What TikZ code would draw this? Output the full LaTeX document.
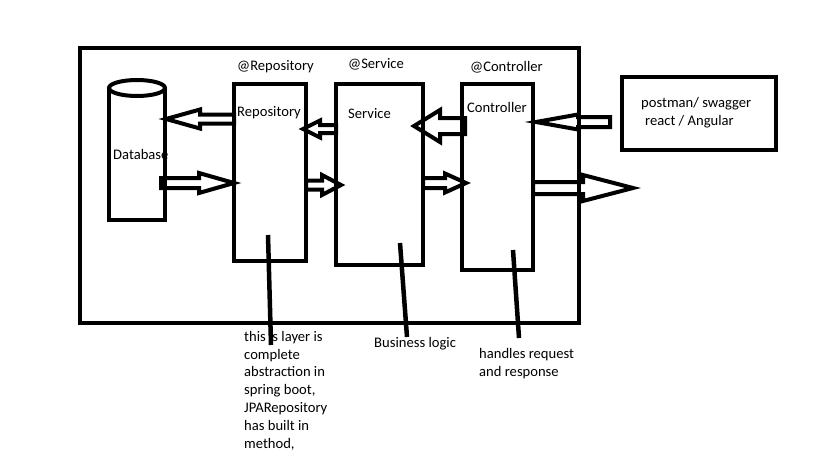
\documentclass[tikz,border=0pt]{standalone}
\usepackage{fontspec}
\setmainfont{Carlito}
\begin{document}
\begin{tikzpicture}[x=1pt,y=-1pt,
  thick line/.style={line width=4pt},
  layerbox/.style={draw,thick line,rectangle,inner sep=0pt,anchor=center},
  label/.style={inner sep=0pt,anchor=west,font=\fontsize{14.6pt}{17.8pt}\selectfont},
  note/.style={inner sep=0pt,anchor=north west,align=left,font=\fontsize{14.6pt}{17.8pt}\selectfont},
  arrowbody/.style={draw,thick line,line join=miter},
  leader/.style={line width=4.5pt}]
\useasboundingbox (0,0) rectangle (819,460);
% hollow block arrow: tail x, tip x, axis y, shaft half-height, head half-height, head base x
\newcommand{\hollowarrow}[6]{%
  \draw[arrowbody] (#1,#3-#4) -- (#6,#3-#4) -- (#6,#3-#5) -- (#2,#3)
    -- (#6,#3+#5) -- (#6,#3+#4) -- (#1,#3+#4) -- cycle;}

% database cylinder
\node[label] (dbtext) at (113,154) {Database};
\draw[thick line] (109,88) -- (109,220) -- (165,220) -- (165,88);
\draw[thick line,fill=white] (137,88) ellipse [x radius=28,y radius=8];

% layer boxes
\node[layerbox,minimum width=72pt,minimum height=177pt] (repo) at (270,172.5) {};
\node[layerbox,minimum width=87pt,minimum height=181pt] (serv) at (379.5,174.5) {};
\node[layerbox,minimum width=71pt,minimum height=186pt] (ctrl) at (497.5,177) {};
\node[layerbox,minimum width=154pt,minimum height=73pt] (client) at (699,113.5) {};

% titles
\node[label] (repoann) at (237,67) {@Repository};
\node[label] (servann) at (348,64) {@Service};
\node[label] (ctrlann) at (470,67) {@Controller};
\node[label] (repotitle) at (237,113) {Repository};
\node[label] (servtitle) at (348,114) {Service};
\node[label] (ctrltitle) at (467,107) {Controller};
\node[label] (client1) at (641,104) {postman/ swagger};
\node[label] (client2) at (645,122) {react / Angular};

% data flow arrows
\hollowarrow{234}{166}{119}{4.5}{9.5}{200}
\hollowarrow{161}{234}{183}{5}{10}{199}
\hollowarrow{336}{303}{129}{4}{8.5}{320}
\hollowarrow{306}{341}{185}{4.5}{10}{322}
\hollowarrow{465}{414}{126}{8}{16}{440}
\hollowarrow{423}{466}{183}{5}{9.5}{445}
\hollowarrow{610}{536}{122}{5}{7.5}{578}
\hollowarrow{533}{633}{188}{6}{13}{583}

% application boundary
\node[layerbox,minimum width=499pt,minimum height=275pt] (app) at (329.5,185.5) {};

% notes
\node[note] (repnote) at (244,331) {this is layer is\\complete\\abstraction in\\spring boot,\\JPARepository\\has built in\\method,};
\node[note] (servnote) at (374,337) {Business logic};
\node[note] (ctrlnote) at (479,348) {handles request\\and response};

% leader lines
\coordinate (r1) at (268,235);
\coordinate (r2) at (271,345);
\coordinate (s1) at (400,243);
\coordinate (s2) at (407,337);
\coordinate (c1) at (513,250);
\coordinate (c2) at (519,338);
\draw[leader] (r1) -- (r2);
\draw[leader] (s1) -- (s2);
\draw[leader] (c1) -- (c2);
\end{tikzpicture}
\end{document}
